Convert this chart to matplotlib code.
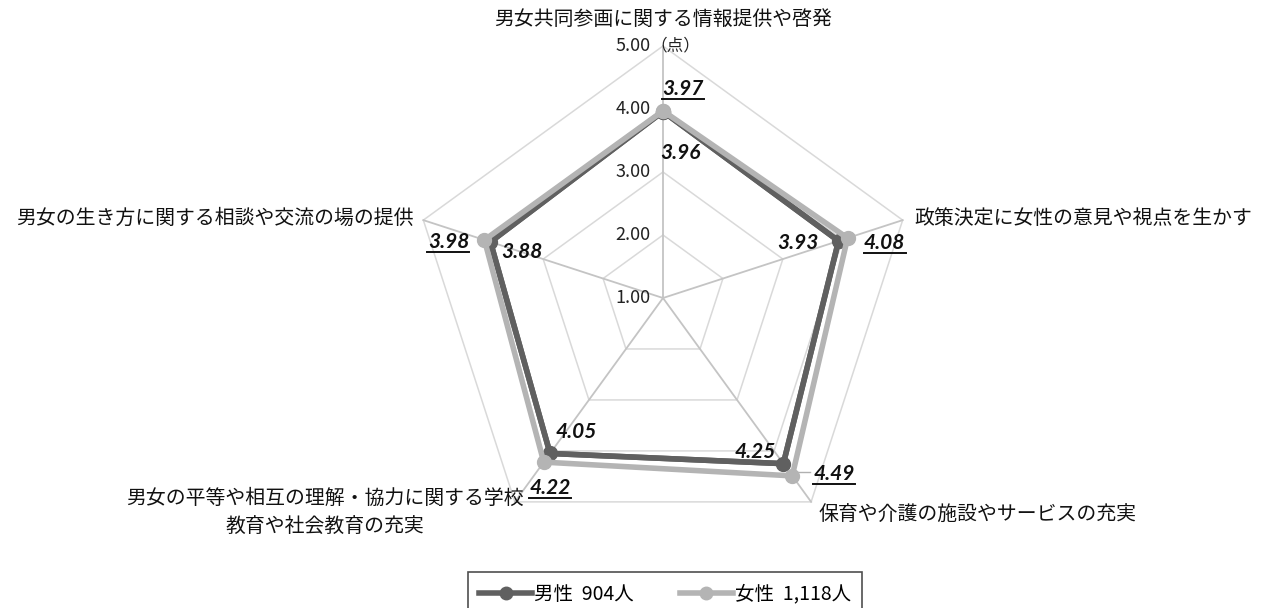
import numpy as np
import matplotlib
matplotlib.use("Agg")
import matplotlib.pyplot as plt
from matplotlib.lines import Line2D

plt.rcParams["font.family"] = ["Noto Sans CJK JP", "DejaVu Sans"]

categories = ["男女共同参画に関する情報提供や啓発",
              "政策決定に女性の意見や視点を生かす",
              "保育や介護の施設やサービスの充実",
              "男女の平等や相互の理解・協力に関する学校\n教育や社会教育の充実",
              "男女の生き方に関する相談や交流の場の提供"]
male = [3.96, 3.93, 4.25, 4.05, 3.88]
female = [3.97, 4.08, 4.49, 4.22, 3.98]
ticks = [1.00, 2.00, 3.00, 4.00, 5.00]
legend_labels = ["男性  904人", "女性  1,118人"]

MALE_C = "#606060"
FEMALE_C = "#b4b4b4"
RMIN = 1.0
S = 63.0  # pixels per point
W, H = 1267, 608
CX, CY = 663, 298

angles = np.pi / 2 - np.arange(5) * 2 * np.pi / 5


def xy(vals):
    r = np.asarray(vals) - RMIN
    return r * np.cos(angles), r * np.sin(angles)


fig = plt.figure(figsize=(W / 100, H / 100), dpi=100)
ax = fig.add_axes([0, 0, 1, 1])
ax.set_xlim(-CX / S, (W - CX) / S)
ax.set_ylim(-(H - CY) / S, CY / S)
ax.axis("off")

# grid pentagons and spokes
for t in ticks[1:]:
    gx, gy = xy([t] * 5)
    ax.plot(np.append(gx, gx[0]), np.append(gy, gy[0]), color="#d9d9d9", lw=1.1, zorder=1)
ox, oy = xy([ticks[-1]] * 5)
for i in range(5):
    ax.plot([0, ox[i]], [0, oy[i]], color="#c4c4c4", lw=1.3, zorder=1)

for t in ticks:
    ax.text(-0.2, t - RMIN, f"{t:.2f}", ha="right", va="center", fontsize=13, color="#222222")
ax.text(-0.2, ticks[-1] - RMIN, "（点）", ha="left", va="center", fontsize=12, color="#222222")

# series
fx, fy = xy(female)
mx, my = xy(male)
ax.plot(np.append(mx, mx[0]), np.append(my, my[0]), color=MALE_C, lw=4, marker="o",
        ms=10, zorder=3)
ax.plot(np.append(fx, fx[0]), np.append(fy, fy[0]), color=FEMALE_C, lw=4, marker="o",
        ms=10, zorder=4)
# male line stays visible beneath where the two overlap
ax.plot(np.append(mx, mx[0]), np.append(my, my[0]), color=MALE_C, lw=4, zorder=3.5)

# category labels: pixel offsets (right, down) from the outer vertex
cat_pos = [(0, -27, "center"), (12, -2, "left"), (7, 14, "left"),
           (-190, 11, "center"), (-10, -2, "right")]
for i, (dx, dy, ha) in enumerate(cat_pos):
    ax.text(ox[i] + dx / S, oy[i] - dy / S, categories[i], ha=ha, va="center",
            fontsize=14.3, linespacing=1.5, color="#111111")

# value labels: pixel offsets (right, up) from the point
val_font = dict(family=["Lato", "DejaVu Sans"], fontsize=15, fontweight="bold",
                style="italic", ha="center", va="center", color="#111111")
m_off = [(17, -41), (-41, -2), (-28, 12), (26, 21), (31, -10)]
f_off = [(20, 22), (37, -5), (42, 2), (6, -26), (-36, -2)]
for i in range(5):
    ax.text(mx[i] + m_off[i][0] / S, my[i] + m_off[i][1] / S, f"{male[i]:.2f}", **val_font)
    ux = fx[i] + f_off[i][0] / S
    uy = fy[i] + f_off[i][1] / S
    ax.text(ux, uy, f"{female[i]:.2f}", **val_font)
    ax.plot([ux - 21 / S, ux + 21 / S], [uy - 10 / S] * 2, color="#111111", lw=1.4)
# leader line for 4.49
ax.plot([fx[2] + 4 / S, fx[2] + 18 / S], [fy[2] + 4 / S] * 2, color="#b0b0b0", lw=1)

handles = [Line2D([], [], color=MALE_C, lw=4, marker="o", ms=9),
           Line2D([], [], color=FEMALE_C, lw=4, marker="o", ms=9)]
leg = fig.legend(handles, legend_labels, loc="center", bbox_to_anchor=(665 / W, 1 - 594 / H),
                 ncol=2, frameon=True, fancybox=False, edgecolor="#222222", fontsize=14,
                 handlelength=2.7, columnspacing=2.4, borderpad=0.6, handletextpad=0.1,
                 borderaxespad=0)
leg.get_frame().set_linewidth(1.2)

fig.savefig("out.png", dpi=100)
